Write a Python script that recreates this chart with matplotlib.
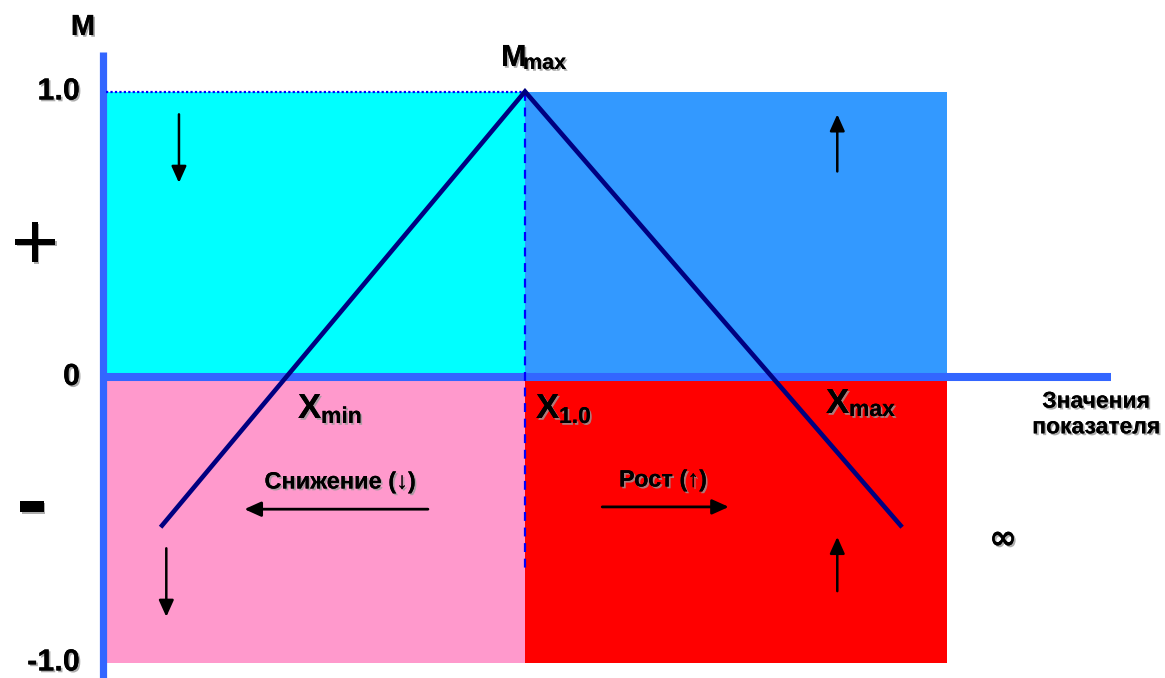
import matplotlib
matplotlib.use("Agg")
import matplotlib.pyplot as plt
import matplotlib.patheffects as pe
from matplotlib.patches import Rectangle

# --- данные схемы ---
y_ticks = [1.0, 0.0, -1.0]
y_tick_labels = ["1.0", "0", "-1.0"]

# зоны: (x0, x1, y0, y1, цвет)
zone_x = [0.0, 1.0, 2.0]
zone_colors = {"upper_left": "#00FFFF", "upper_right": "#3399FF",
               "lower_left": "#FF99CC", "lower_right": "#FF0000"}

# ломаная функции принадлежности
curve_x = [0.14, 1.0, 1.89]
curve_y = [-0.52, 1.0, -0.52]

# стрелки-направления внутри зон (x, y_start, y_end)
v_arrows = [(0.18, 0.92, 0.68), (1.74, 0.72, 0.92),
            (0.15, -0.60, -0.84), (1.74, -0.75, -0.56)]
# горизонтальные стрелки (x_start, x_end, y)
h_arrows = [(0.770, 0.335, -0.463), (1.183, 1.483, -0.455)]

# --- пиксели -> данные ---
PX0, SX = 103.0, 422.0
PY0, SY = 377.0, 285.5
W, H = 1165, 678


def px(x):
    return (x - PX0) / SX


def py(y):
    return (PY0 - y) / SY


fig = plt.figure(figsize=(W / 100, H / 100), dpi=100)
ax = fig.add_axes([0, 0, 1, 1])
ax.set_xlim(px(0), px(W))
ax.set_ylim(py(H), py(0))
ax.axis("off")

FONT = ["Liberation Sans", "DejaVu Sans"]
shadow = [pe.withSimplePatchShadow(offset=(1.3, -1.3), shadow_rgbFace="#999999", alpha=0.8),
          pe.Normal()]

# зоны
ax.add_patch(Rectangle((zone_x[0], 0), zone_x[1] - zone_x[0], 1.0,
                       color=zone_colors["upper_left"], lw=0, zorder=1))
ax.add_patch(Rectangle((zone_x[1], 0), zone_x[2] - zone_x[1], 1.0,
                       color=zone_colors["upper_right"], lw=0, zorder=1))
ax.add_patch(Rectangle((zone_x[0], -1.0), zone_x[1] - zone_x[0], 1.0,
                       color=zone_colors["lower_left"], lw=0, zorder=1))
ax.add_patch(Rectangle((zone_x[1], -1.0), zone_x[2] - zone_x[1], 1.0,
                       color=zone_colors["lower_right"], lw=0, zorder=1))

# оси
ax.plot([0, 0], [py(52), py(H)], color="#3366FF", lw=5.2, solid_capstyle="butt", zorder=3)
ax.plot([0, px(1111)], [0, 0], color="#3366FF", lw=5.8, solid_capstyle="butt", zorder=3)

# вспомогательные линии
ax.plot([px(106), curve_x[1]], [1.0, 1.0], color="#0000FF", lw=1.6, ls=(0, (1, 1)), zorder=4)
ax.plot([curve_x[1], curve_x[1]], [1.0, py(570)], color="#0000FF", lw=1.6,
        ls=(0, (4, 3)), zorder=4)

# ломаная
ax.plot(curve_x, curve_y, color="#000080", lw=3.3, solid_joinstyle="miter", zorder=5)

# стрелки
for x, y0, y1 in v_arrows:
    ax.annotate("", xy=(x, y1), xytext=(x, y0),
                arrowprops=dict(arrowstyle="-|>,head_length=1.0,head_width=0.45",
                                color="black", lw=1.8, shrinkA=0, shrinkB=0), zorder=6)
for x0, x1, y in h_arrows:
    ax.annotate("", xy=(x1, y), xytext=(x0, y),
                arrowprops=dict(arrowstyle="-|>,head_length=1.0,head_width=0.45",
                                color="black", lw=2.0, shrinkA=0, shrinkB=0), zorder=6)

# подписи оси Y
for v, lab in zip(y_ticks, y_tick_labels):
    ax.text(px(80), v, lab, ha="right", va="center", fontsize=22, fontweight="bold",
            family=FONT, path_effects=shadow, zorder=7)
ax.text(px(83), py(27), "M", ha="center", va="center", fontsize=21, fontweight="bold",
        family=FONT, path_effects=shadow)
ax.text(px(35), py(244), "+", ha="center", va="center", fontsize=46, fontweight="normal",
        family=["DejaVu Sans"], path_effects=shadow)
ax.text(px(32), py(506), "-", ha="center", va="center", fontsize=66, fontweight="bold",
        family=FONT, path_effects=shadow)


def label_sub(x, y, main, sub, size_main, size_sub, dx_sub, dy_sub):
    ax.text(px(x), py(y), main, ha="left", va="baseline", fontsize=size_main,
            fontweight="bold", family=FONT, path_effects=shadow, zorder=7)
    ax.text(px(x + dx_sub), py(y + dy_sub), sub, ha="left", va="baseline",
            fontsize=size_sub, fontweight="bold", family=FONT, path_effects=shadow, zorder=7)


label_sub(501, 66, "M", "max", 22, 15.5, 22, 3)
label_sub(298, 418, "X", "min", 25, 16.5, 23, 5)
label_sub(536, 418, "X", "1.0", 25, 16.5, 23, 5)
label_sub(826, 413, "X", "max", 25, 16.5, 23, 3)

ax.text(px(1096), py(414), "Значения\nпоказателя", ha="center", va="center",
        fontsize=16.5, fontweight="bold", family=FONT, linespacing=1.15,
        path_effects=shadow)
ax.text(px(1003), py(539), "∞", ha="center", va="center", fontsize=24, fontweight="bold",
        family=["DejaVu Sans"], path_effects=shadow)

ax.text(px(340), py(482), "Снижение (↓)", ha="center", va="center", fontsize=17,
        fontweight="bold", family=FONT, path_effects=shadow, zorder=7)
ax.text(px(663), py(480), "Рост (↑)", ha="center", va="center", fontsize=17,
        fontweight="bold", family=FONT, path_effects=shadow, zorder=7)

fig.savefig("out.png", dpi=100)
